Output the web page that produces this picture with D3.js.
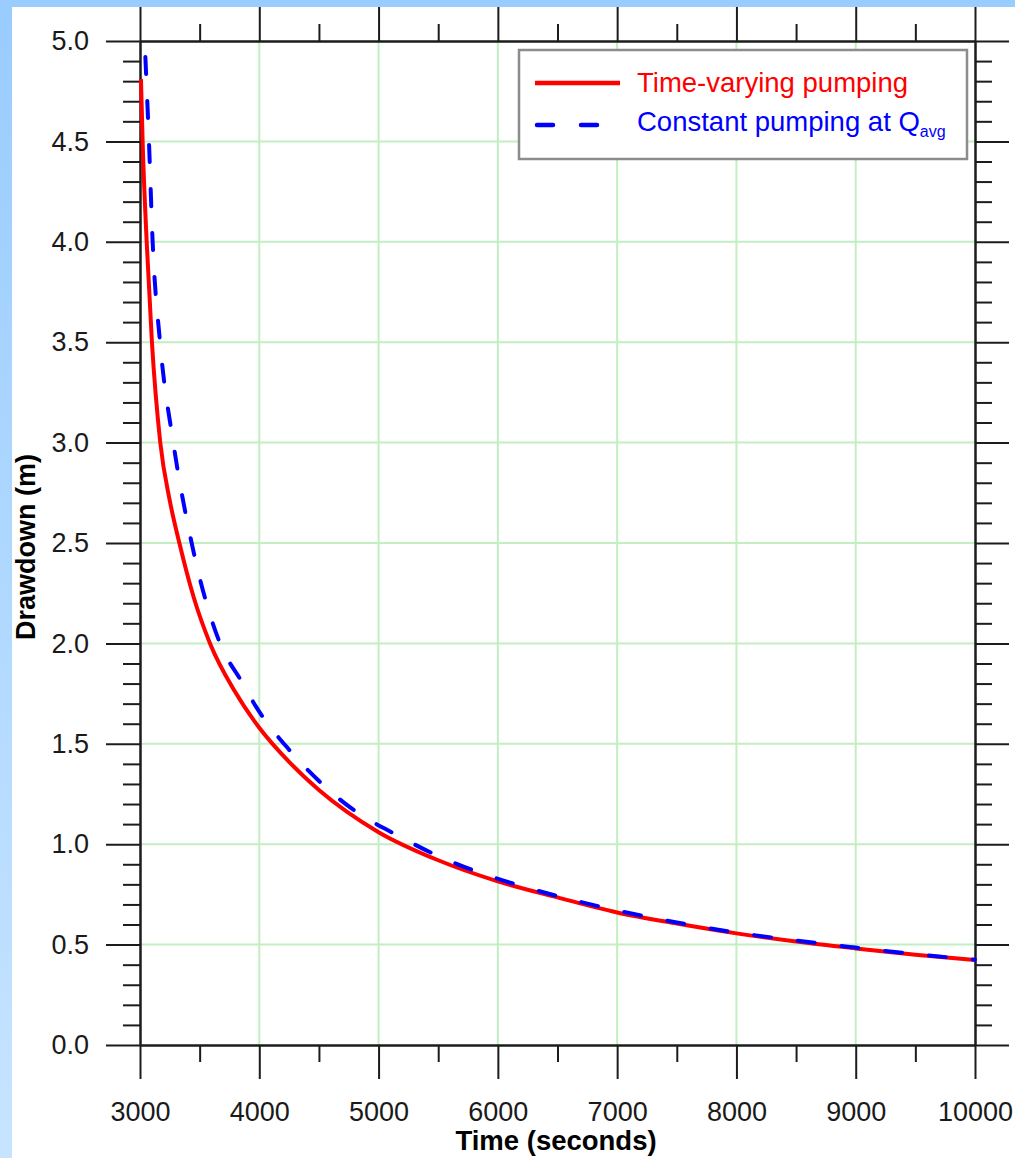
<!DOCTYPE html>
<html>
<head>
<meta charset="utf-8">
<script src="https://cdn.jsdelivr.net/npm/d3@7/dist/d3.min.js"></script>
<style>
  html, body { margin: 0; padding: 0; background: #fff; }
  svg { display: block; }
</style>
</head>
<body>
<svg id="chart" width="1015" height="1158"></svg>
<script>
// Drawdown during recovery, time-varying pumping vs. constant pumping at the average rate
const timeVaryingTime = [3008, 3022, 3056, 3100, 3170, 3250, 3330, 3450, 3587, 3796, 4000, 4250, 4500, 5000, 5500, 6000, 6500, 7000, 7500, 8000, 8500, 9000, 9500, 10000];
const timeVaryingDrawdown = [4.81, 4.50, 4.00, 3.50, 3.00, 2.71, 2.50, 2.23, 2.00, 1.76, 1.58, 1.41, 1.27, 1.06, 0.92, 0.815, 0.735, 0.66, 0.605, 0.556, 0.515, 0.481, 0.450, 0.423];

const constantTime = [3045, 3075, 3106, 3168, 3279, 3433, 3671, 3852, 3978, 4243, 4509, 4816, 5123, 5542, 5962, 6325, 7000, 7500, 8000, 8500, 9000, 9500, 10000];
const constantDrawdown = [4.92, 4.50, 4.00, 3.50, 3.00, 2.50, 2.00, 1.81, 1.68, 1.475, 1.31, 1.16, 1.055, 0.93, 0.835, 0.77, 0.67, 0.61, 0.56, 0.52, 0.485, 0.452, 0.425];

const xTickValues = [3000, 4000, 5000, 6000, 7000, 8000, 9000, 10000];
const yTickValues = [0.0, 0.5, 1.0, 1.5, 2.0, 2.5, 3.0, 3.5, 4.0, 4.5, 5.0];
const legendLabels = ["Time-varying pumping", "Constant pumping at Q"];
const legendSubscript = "avg";
const xTitle = "Time (seconds)";
const yTitle = "Drawdown (m)";

const W = 1015, H = 1158;
const plot = { left: 140, right: 975, top: 41, bottom: 1045 };
const majorLen = 34, minorLen = 17;
const axisColor = "#1c1c1c";
const font = "'Liberation Sans', Arial, Helvetica, sans-serif";

const svg = d3.select("#chart");

// Page background: blue band on top and down the left edge
const defs = svg.append("defs");
const grad = defs.append("linearGradient").attr("id", "edge").attr("x1", 0).attr("y1", 0).attr("x2", 0).attr("y2", 1);
grad.append("stop").attr("offset", "0%").attr("stop-color", "#99ccff");
grad.append("stop").attr("offset", "100%").attr("stop-color", "#c6e4ff");
svg.append("rect").attr("width", W).attr("height", H).attr("fill", "#ffffff");
svg.append("rect").attr("x", 0).attr("y", 0).attr("width", 12).attr("height", H).attr("fill", "url(#edge)");
svg.append("rect").attr("x", 0).attr("y", 0).attr("width", W).attr("height", 7).attr("fill", "#99ccff");

const x = d3.scaleLinear().domain([3000, 10000]).range([plot.left, plot.right]);
const y = d3.scaleLinear().domain([0, 5]).range([plot.bottom, plot.top]);

const xMinor = d3.range(3000, 10001, 500).filter(v => v % 1000 !== 0);
const yMinor = d3.range(0, 51, 1).map(v => v / 10).filter(v => Math.round(v * 10) % 5 !== 0);

// Grid lines at the major ticks
const grid = svg.append("g").attr("stroke", "#c2eec2").attr("stroke-width", 2);
grid.selectAll("line.gx").data(xTickValues.slice(1, -1)).join("line")
  .attr("x1", d => x(d)).attr("x2", d => x(d)).attr("y1", plot.top).attr("y2", plot.bottom);
grid.selectAll("line.gy").data(yTickValues.slice(1, -1)).join("line")
  .attr("x1", plot.left).attr("x2", plot.right).attr("y1", d => y(d)).attr("y2", d => y(d));

function styleAxis(g) {
  g.selectAll("path.domain").attr("stroke", axisColor).attr("stroke-width", 2);
  g.selectAll(".tick line").attr("stroke", axisColor).attr("stroke-width", 2);
  g.selectAll(".tick text").attr("fill", "#1a1a1a").attr("font-family", font).attr("font-size", 27);
}

// Minor ticks on all four sides
[["axisLeft", `translate(${plot.left},0)`, y, yMinor],
 ["axisRight", `translate(${plot.right},0)`, y, yMinor],
 ["axisTop", `translate(0,${plot.top})`, x, xMinor],
 ["axisBottom", `translate(0,${plot.bottom})`, x, xMinor]].forEach(([fn, tr, sc, vals]) => {
  svg.append("g").attr("transform", tr)
    .call(d3[fn](sc).tickValues(vals).tickSize(minorLen).tickSizeOuter(0).tickFormat(""))
    .call(styleAxis);
});

// Major ticks, labels on the left and bottom
svg.append("g").attr("transform", `translate(${plot.left},0)`)
  .call(d3.axisLeft(y).tickValues(yTickValues).tickSize(majorLen).tickSizeOuter(0).tickPadding(17).tickFormat(d3.format(".1f")))
  .call(styleAxis);
svg.append("g").attr("transform", `translate(${plot.right},0)`)
  .call(d3.axisRight(y).tickValues(yTickValues).tickSize(majorLen).tickSizeOuter(0).tickFormat(""))
  .call(styleAxis);
svg.append("g").attr("transform", `translate(0,${plot.top})`)
  .call(d3.axisTop(x).tickValues(xTickValues).tickSize(majorLen).tickSizeOuter(0).tickFormat(""))
  .call(styleAxis);
svg.append("g").attr("transform", `translate(0,${plot.bottom})`)
  .call(d3.axisBottom(x).tickValues(xTickValues).tickSize(majorLen).tickSizeOuter(0).tickPadding(23).tickFormat(d3.format("d")))
  .call(styleAxis);

// Axis titles
svg.append("text").attr("x", 556).attr("y", 1150).attr("text-anchor", "middle")
  .attr("font-family", font).attr("font-weight", "bold").attr("font-size", 27.5).attr("fill", "#000")
  .text(xTitle);
svg.append("text").attr("transform", "translate(35,547) rotate(-90)").attr("text-anchor", "middle")
  .attr("font-family", font).attr("font-weight", "bold").attr("font-size", 27).attr("fill", "#000")
  .text(yTitle);

// Curves
const line = d3.line().x(d => x(d[0])).y(d => y(d[1])).curve(d3.curveMonotoneX);
const redData = d3.zip(timeVaryingTime, timeVaryingDrawdown);
const blueData = d3.zip(constantTime, constantDrawdown);

svg.append("path").datum(redData).attr("d", line)
  .attr("fill", "none").attr("stroke", "#ff0000").attr("stroke-width", 4).attr("stroke-linejoin", "round");
svg.append("path").datum(blueData).attr("d", line)
  .attr("fill", "none").attr("stroke", "#0000ff").attr("stroke-width", 4)
  .attr("stroke-dasharray", "17,27").attr("stroke-linecap", "round").attr("stroke-linejoin", "round");

// Legend
const lg = svg.append("g");
lg.append("rect").attr("x", 519).attr("y", 50).attr("width", 448).attr("height", 109)
  .attr("fill", "#ffffff").attr("stroke", "#8c8c8c").attr("stroke-width", 2.5);
lg.append("line").attr("x1", 535).attr("x2", 620).attr("y1", 83).attr("y2", 83)
  .attr("stroke", "#ff0000").attr("stroke-width", 4.5);
lg.append("line").attr("x1", 537).attr("x2", 610).attr("y1", 125).attr("y2", 125)
  .attr("stroke", "#0000ff").attr("stroke-width", 4.5).attr("stroke-dasharray", "16,28").attr("stroke-linecap", "round");
lg.append("text").attr("x", 637).attr("y", 92).attr("font-family", font).attr("font-size", 27.5).attr("fill", "#ff0000")
  .text(legendLabels[0]);
const t2 = lg.append("text").attr("x", 637).attr("y", 131).attr("font-family", font).attr("font-size", 27.5).attr("fill", "#0000ff");
t2.append("tspan").text(legendLabels[1]);
t2.append("tspan").attr("font-size", 16).attr("dy", 6).text(legendSubscript);
</script>
</body>
</html>
